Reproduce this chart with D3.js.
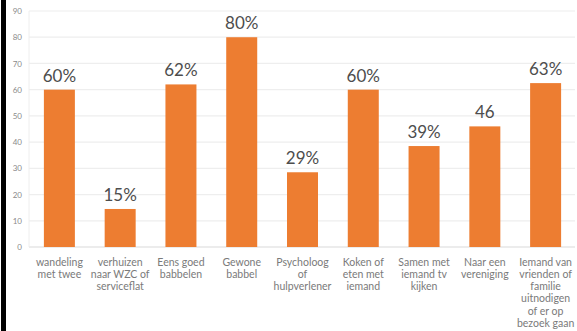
<!DOCTYPE html>
<html>
<head>
<meta charset="utf-8">
<script src="https://cdn.jsdelivr.net/npm/d3@7"></script>
<style>
  body { margin: 0; background: #fff; }
  svg { display: block; font-family: Lato, "Open Sans", sans-serif; }
</style>
</head>
<body>
<svg id="chart" width="577" height="331"></svg>
<script>
// categories (line breaks as in the original chart)
var categories = [
  ["wandeling", "met twee"],
  ["verhuizen", "naar WZC of", "serviceflat"],
  ["Eens goed", "babbelen"],
  ["Gewone", "babbel"],
  ["Psycholoog", "of", "hulpverlener"],
  ["Koken of", "eten met", "iemand"],
  ["Samen met", "iemand tv", "kijken"],
  ["Naar een", "vereniging"],
  ["Iemand van", "vrienden of", "familie", "uitnodigen", "of er op", "bezoek gaan"]
];
var values = [60, 14.5, 62, 80, 28.5, 60, 38.5, 46, 62.5];
var valueLabels = ["60%", "15%", "62%", "80%", "29%", "60%", "39%", "46", "63%"];
var yTicks = [0, 10, 20, 30, 40, 50, 60, 70, 80, 90];

var svg = d3.select("#chart");

// black frame strip on the left
svg.append("rect").attr("x", 1).attr("y", 0).attr("width", 5).attr("height", 331).attr("fill", "#000");

var plot = {left: 29, right: 576, top: 11, bottom: 247};

var x = d3.scaleBand().domain(d3.range(categories.length)).range([plot.left, plot.right]).paddingInner(0.49).paddingOuter(0.245);
var y = d3.scaleLinear().domain([0, 90]).range([plot.bottom, plot.top]);

// gridlines
svg.append("g").selectAll("line")
  .data(yTicks)
  .enter().append("line")
    .attr("x1", plot.left).attr("x2", plot.right - 1)
    .attr("y1", function(d) { return y(d); })
    .attr("y2", function(d) { return y(d); })
    .attr("stroke", function(d) { return d == 0 ? "#d9d9d9" : "#eeeeee"; })
    .attr("stroke-width", 1.2);

svg.append("line")
  .attr("x1", plot.left).attr("x2", plot.left)
  .attr("y1", plot.top).attr("y2", plot.bottom)
  .attr("stroke", "#eeeeee");

// y axis labels
var yAxis = svg.append("g")
  .attr("transform", "translate(" + (plot.left - 7) + ",0)")
  .call(d3.axisLeft(y).tickValues(yTicks).tickSize(0).tickPadding(0));
yAxis.select(".domain").remove();
yAxis.selectAll("text")
  .attr("fill", "#8a8a8a")
  .style("font-size", "8px")
  .style("font-family", "Lato, sans-serif");

// bars
svg.selectAll(".bar")
  .data(values)
  .enter().append("rect")
    .attr("class", "bar")
    .attr("x", function(d, i) { return x(i); })
    .attr("y", function(d) { return y(d); })
    .attr("width", x.bandwidth())
    .attr("height", function(d) { return plot.bottom - y(d); })
    .attr("fill", "#ED7D31");

// value labels
svg.selectAll(".val")
  .data(values)
  .enter().append("text")
    .attr("class", "val")
    .attr("x", function(d, i) { return x(i) + x.bandwidth() / 2; })
    .attr("y", function(d) { return y(d) - 8; })
    .attr("text-anchor", "middle")
    .attr("fill", "#4d4d4d")
    .style("font-size", "17px")
    .text(function(d, i) { return valueLabels[i]; });

// category labels
var cat = svg.selectAll(".cat")
  .data(categories)
  .enter().append("text")
    .attr("class", "cat")
    .attr("text-anchor", "middle")
    .attr("fill", "#7a7a7a")
    .style("font-size", "10.5px");

cat.selectAll("tspan")
  .data(function(d, i) { return d.map(function(t) { return { t: t, i: i }; }); })
  .enter().append("tspan")
    .attr("x", function(d) { return x(d.i) + x.bandwidth() / 2; })
    .attr("y", function(d, j) { return 265.5 + j * 12.3; })
    .text(function(d) { return d.t; });
</script>
</body>
</html>
